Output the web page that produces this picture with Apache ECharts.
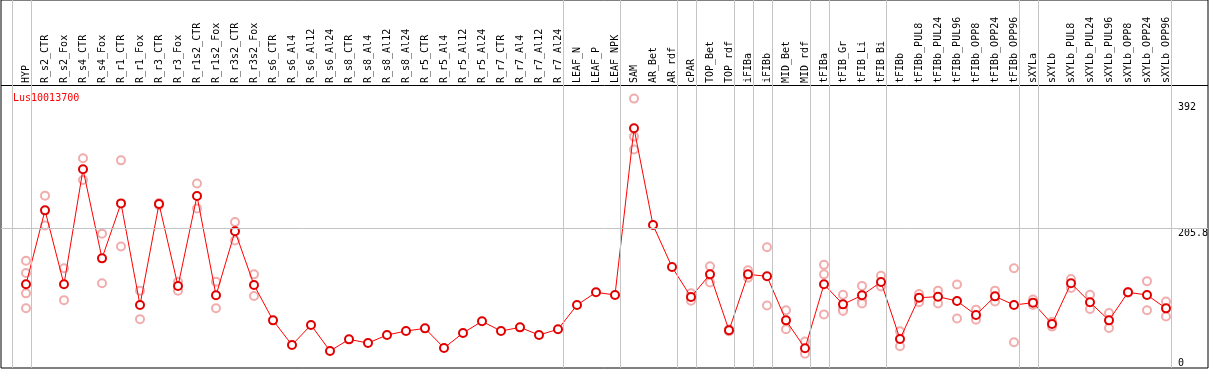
<!DOCTYPE html>
<html>
<head>
<meta charset="utf-8">
<script src="https://cdn.jsdelivr.net/npm/echarts@6/dist/echarts.min.js"></script>
<style>html,body{margin:0;padding:0;background:#fff}#c{width:1209px;height:370px}</style>
</head>
<body>
<div id="c"></div>
<script>
const title = 'Lus10013700';
const categories = ['HYP','R_s2_CTR','R_s2_Fox','R_s4_CTR','R_s4_Fox','R_r1_CTR','R_r1_Fox','R_r3_CTR','R_r3_Fox','R_r1s2_CTR','R_r1s2_Fox','R_r3s2_CTR','R_r3s2_Fox','R_s6_CTR','R_s6_Al4','R_s6_Al12','R_s6_Al24','R_s8_CTR','R_s8_Al4','R_s8_Al12','R_s8_Al24','R_r5_CTR','R_r5_Al4','R_r5_Al12','R_r5_Al24','R_r7_CTR','R_r7_Al4','R_r7_Al12','R_r7_Al24','LEAF_N','LEAF_P','LEAF_NPK','SAM','AR_Bet','AR_rdf','cPAR','TOP_Bet','TOP_rdf','iFIBa','iFIBb','MID_Bet','MID_rdf','tFIBa','tFIB_Gr','tFIB_Li','tFIB_Bi','tFIBb','tFIBb_PUL8','tFIBb_PUL24','tFIBb_PUL96','tFIBb_OPP8','tFIBb_OPP24','tFIBb_OPP96','sXYLa','sXYLb','sXYLb_PUL8','sXYLb_PUL24','sXYLb_PUL96','sXYLb_OPP8','sXYLb_OPP24','sXYLb_OPP96'];
const meanValues = [123.3,232.3,123.3,292.8,161.6,242.6,92.8,241.7,120.8,253.5,107.1,201.4,122.3,70.2,33.9,63.4,25.1,42.2,36.8,48.6,54.5,58.4,29.5,51.6,68.8,54.5,59.9,48.6,57.0,92.8,111.5,107.6,353.2,210.7,148.8,104.6,138.0,55.5,138.0,135.1,70.2,29.0,123.3,93.8,107.1,126.7,42.7,103.6,105.1,98.7,78.1,105.6,92.8,96.3,64.8,124.8,96.8,70.2,111.5,107.6,87.9];
const replicateValues = [
  [158,140,110,88],[254,210],[147,100],[309,277],[198,125],[306,179],[114,72],[243,240],[127,114],[272,235],[127,88],[215,188],[138,106],
  [],[],[],[],[],[],[],[],[],[],[],[],[],[],[],[],[],[],[],
  [397,341,322],[],[],[110,99],[150,126],[57,54],[144,133],[178,92],[85,57],[39,21],[152,138,79],[108,87,84],[121,99,95],[136,120],[54,32],
  [109,97],[114,95],[123,73],[86,71],[114,98],[147,38],[101,93],[68,61],[131,118],[108,87],[81,59],[112,111],[128,85],[98,76]
];
const groupSeparatorsAfter = [-1,0,28,31,34,35,37,38,39,41,42,45,52,53,60];
const yTickValues = [205.8, 392];
const yZeroTick = [0];
const yRefLine = 205.8;

const FONT = 'DejaVu Sans Mono';
const repData = [];
replicateValues.forEach((arr, i) => arr.forEach(v => repData.push([i, v])));
const mainData = meanValues.map((v, i) => [i, v]);
const yMax = 368 * 392 / 266;

const chart = echarts.init(document.getElementById('c'), null, {renderer: 'canvas'});
const yAxisBase = {
  type: 'value', min: 0, max: yMax, position: 'right',
  axisLine: {show: false}, axisTick: {show: false}, splitLine: {show: false}
};
chart.setOption({
  backgroundColor: '#fff',
  animation: false,
  title: {text: title, left: 8, top: 88, textStyle: {color: '#ff0000', fontSize: 10, fontWeight: 'normal', fontFamily: FONT}},
  grid: {left: 1, top: 0, width: 1207, height: 368, show: true, borderColor: '#000', borderWidth: 1, containLabel: false, outerBoundsMode: 'none'},
  graphic: [{type: 'line', shape: {x1: 1, y1: 85.5, x2: 1208, y2: 85.5}, style: {stroke: '#000', lineWidth: 1}, z: 5}],
  xAxis: {
    type: 'value', min: -25/19, max: 1182/19, position: 'top', offset: -85,
    axisLine: {show: false},
    axisTick: {show: false}, splitLine: {show: false},
    axisLabel: {
      customValues: categories.map((_, i) => i),
      rotate: 90, margin: 2, fontSize: 10, fontFamily: FONT, color: '#000',
      formatter: v => categories[Math.round(v)] || ''
    }
  },
  yAxis: [
    Object.assign({}, yAxisBase, {axisLabel: {inside: true, customValues: yTickValues, align: 'left', verticalAlign: 'top', margin: 30, fontSize: 10, fontFamily: FONT, color: '#000', formatter: v => String(v)}}),
    Object.assign({}, yAxisBase, {axisLabel: {inside: true, customValues: yZeroTick, align: 'left', verticalAlign: 'bottom', margin: 30, fontSize: 10, fontFamily: FONT, color: '#000', formatter: v => String(v)}})
  ],
  series: [
    {
      type: 'scatter', z: 1, data: repData, symbol: 'emptyCircle', symbolSize: 8,
      itemStyle: {color: '#ee9999', borderColor: '#ee9999', borderWidth: 1.2},
      markLine: {
        silent: true, symbol: 'none', label: {show: false},
        lineStyle: {color: '#c4c4c4', type: 'solid', width: 1},
        data: groupSeparatorsAfter.map(i => ({xAxis: i + 0.25})).concat([{yAxis: yRefLine}])
      }
    },
    {
      type: 'line', z: 3, data: mainData, symbol: 'emptyCircle', symbolSize: 8,
      lineStyle: {color: '#ff0000', width: 1},
      itemStyle: {color: '#e00000', borderColor: '#e00000', borderWidth: 1.4}
    }
  ]
});
</script>
</body>
</html>
